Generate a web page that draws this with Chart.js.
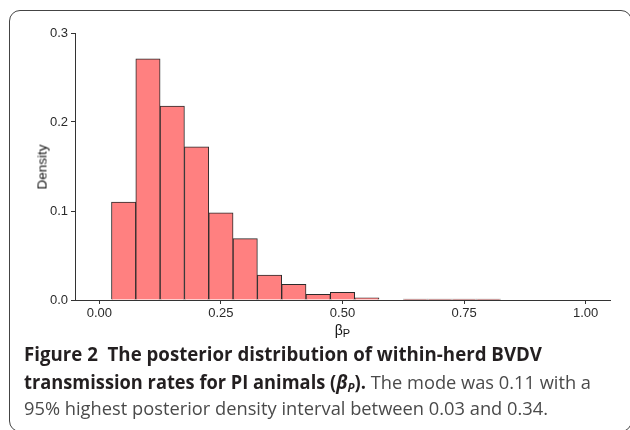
<!DOCTYPE html>
<html>
<head>
<meta charset="utf-8">
<script src="https://cdn.jsdelivr.net/npm/chart.js@4.4.1/dist/chart.umd.min.js"></script>
<style>
  html, body { margin: 0; padding: 0; background: #fff; }
  #wrap { position: relative; width: 630px; height: 430px; overflow: hidden; }
  #frame { position: absolute; left: 9px; top: 10px; width: 623px; height: 422px;
           box-sizing: border-box; border: 1.5px solid #444; border-radius: 11px; }
  #chart { position: absolute; left: 0; top: 0; }
  #ytitle { position: absolute; left: 41.5px; top: 166.5px; font: 13.5px "Liberation Sans", Arial, sans-serif;
            color: #111; transform: translate(-50%, -50%) rotate(-90deg); white-space: nowrap; }
  #xtitle { position: absolute; left: 342.5px; top: 330px; font: 14px "Liberation Sans", Arial, sans-serif;
            color: #111; transform: translate(-50%, -50%); white-space: nowrap; }
  #xtitle sub { font-size: 11px; vertical-align: -2px; }
  .cap { position: absolute; left: 24px; font: 19px/19px "Open Sans", sans-serif; white-space: nowrap;
         transform-origin: 0 0; color: #4a4a4a; }
  .cap b { color: #231f20; font-weight: 700; }
  .cap i sub { font-size: 12px; vertical-align: -3px; }
</style>
</head>
<body>
<div id="wrap">
  <div id="frame"></div>
  <canvas id="chart" width="630" height="330"></canvas>
  <div id="ytitle">Density</div>
  <div id="xtitle">β<sub>P</sub></div>
  <div class="cap" id="cap1" data-w="518" style="top:345px"><b>Figure 2&nbsp; The posterior distribution of within-herd BVDV</b></div>
  <div class="cap" id="cap2" data-w="567" style="top:373px"><b>transmission rates for PI animals (<i>β<sub>P</sub></i>).</b> The mode was 0.11 with a</div>
  <div class="cap" id="cap3" data-w="524" style="top:399px">95% highest posterior density interval between 0.03 and 0.34.</div>
</div>
<script>
// histogram bins (centre of each 0.05 wide bin) and their density
var binCenters = [0.05, 0.10, 0.15, 0.20, 0.25, 0.30, 0.35, 0.40, 0.45, 0.50, 0.55, 0.60, 0.65, 0.70, 0.75, 0.80];
var density    = [0.110, 0.271, 0.218, 0.172, 0.098, 0.069, 0.028, 0.0176, 0.0065, 0.0086, 0.0025, 0, 0.001, 0.001, 0.001, 0.001];
var xTicks = [0, 0.25, 0.5, 0.75, 1];
var yTicks = [0, 0.1, 0.2, 0.3];

var points = binCenters.map(function(x, i){ return {x: x, y: density[i]}; });

var tickFont = {family: "'Liberation Sans', Arial, sans-serif", size: 13};

new Chart(document.getElementById("chart").getContext("2d"), {
  type: 'bar',
  data: {
    datasets: [{
      data: points,
      backgroundColor: '#FF8080',
      borderColor: '#2b2b2b',
      borderWidth: 1,
      barPercentage: 1,
      categoryPercentage: 1
    }]
  },
  options: {
    responsive: false,
    animation: false,
    devicePixelRatio: 1,
    layout: { padding: {top: 33, right: 20, left: 0, bottom: 0} },
    plugins: { legend: {display: false}, tooltip: {enabled: false} },
    scales: {
      x: {
        type: 'linear',
        min: -0.05, max: 1.05,
        offset: false,
        z: 1,
        grid: { offset: false, drawOnChartArea: false, tickLength: 4, color: '#333' },
        border: { color: '#333', width: 1 },
        afterBuildTicks: function(s){ s.ticks = xTicks.map(function(v){ return {value: v}; }); },
        afterFit: function(s){ s.height = 30; },
        ticks: { padding: 2, color: '#2a2a2a', font: tickFont,
                 callback: function(v){ return v.toFixed(2); } }
      },
      y: {
        min: 0, max: 0.3,
        grid: { drawOnChartArea: false, tickLength: 4, color: '#333' },
        border: { color: '#333', width: 1 },
        afterBuildTicks: function(s){ s.ticks = yTicks.map(function(v){ return {value: v}; }); },
        afterFit: function(s){ s.width = 75; },
        ticks: { padding: 3, color: '#2a2a2a', font: tickFont,
                 callback: function(v){ return v.toFixed(1); } }
      }
    }
  }
});

// squeeze caption lines to the width they take in the figure
document.querySelectorAll('.cap').forEach(function(el){
  var w = el.getBoundingClientRect().width;
  el.style.transform = 'scaleX(' + (el.dataset.w / w) + ')';
});
</script>
</body>
</html>
